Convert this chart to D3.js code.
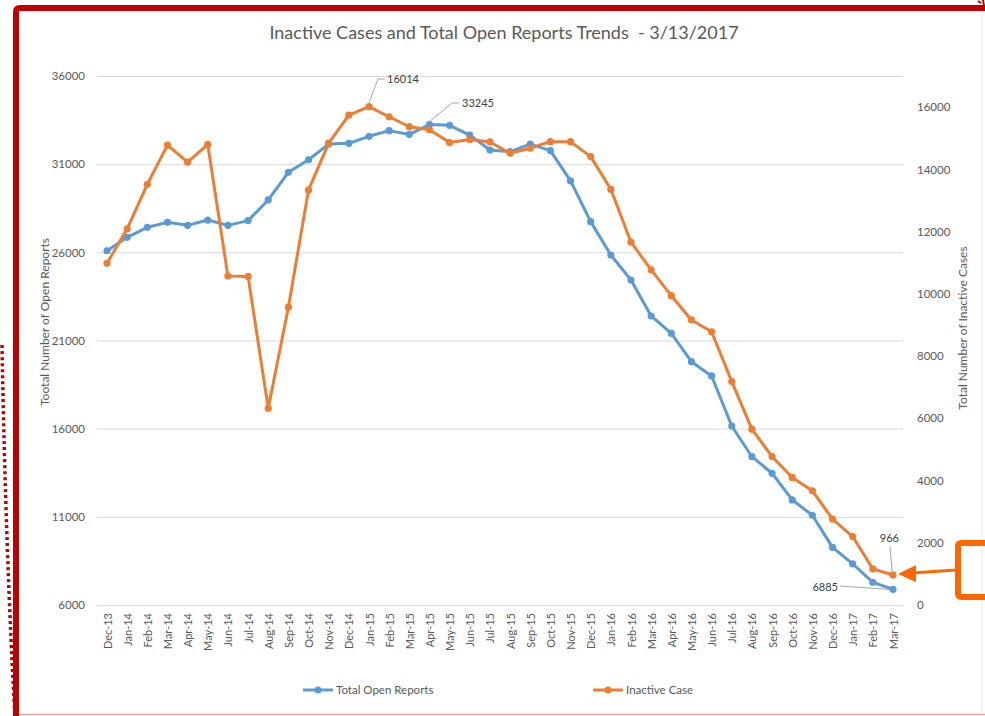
<!DOCTYPE html>
<html><head><meta charset="utf-8">
<script src="https://cdn.jsdelivr.net/npm/d3@7"></script>
<style>
html,body{margin:0;padding:0;background:#fff;}
svg{display:block;font-family:Lato,"Open Sans",sans-serif;}
</style></head>
<body>
<svg id="c" width="985" height="716"></svg>
<script>
const months = ["Dec-13","Jan-14","Feb-14","Mar-14","Apr-14","May-14","Jun-14","Jul-14","Aug-14","Sep-14","Oct-14","Nov-14",
"Dec-14","Jan-15","Feb-15","Mar-15","Apr-15","May-15","Jun-15","Jul-15","Aug-15","Sep-15","Oct-15","Nov-15",
"Dec-15","Jan-16","Feb-16","Mar-16","Apr-16","May-16","Jun-16","Jul-16","Aug-16","Sep-16","Oct-16","Nov-16",
"Dec-16","Jan-17","Feb-17","Mar-17"];
const openReports = [26090,26850,27420,27700,27530,27830,27530,27800,28970,30540,31250,32140,
32180,32580,32900,32690,33245,33200,32650,31800,31710,32140,31770,30050,
27740,25850,24430,22390,21400,19800,18990,16150,14410,13470,11960,11090,
9270,8330,7290,6885];
const inactiveCases = [10980,12090,13520,14780,14230,14800,10570,10560,6320,9570,13340,14840,
15740,16014,15690,15370,15270,14860,14960,14880,14520,14680,14890,14890,
14410,13360,11660,10770,9940,9160,8780,7180,5650,4770,4100,3670,
2760,2200,1160,966];
const leftTicks = [6000,11000,16000,21000,26000,31000,36000];
const rightTicks = [0,2000,4000,6000,8000,10000,12000,14000,16000];
const seriesNames = ["Total Open Reports","Inactive Case"];
const titleText = "Inactive Cases and Total Open Reports Trends  - 3/13/2017";
const leftTitle = "Tootal Number of Open Reports";
const rightTitle = "Total Number of Inactive Cases";

const svg = d3.select("#c");
const blue = "#5B9BD5", orange = "#ED7D31", txt = "#595959", grid = "#D9D9D9";

const x = d3.scalePoint().domain(months).range([107, 893]);
const yL = d3.scaleLinear().domain([6000, 36000]).range([605, 76]);
const yR = d3.scaleLinear().domain([0, 17000]).range([605, 76]);

// decorations: frame
svg.append("line").attr("x1",982).attr("x2",982).attr("y1",11).attr("y2",713).attr("stroke","#E6E6E6").attr("stroke-width",1);
svg.append("line").attr("x1",19).attr("x2",985).attr("y1",714.5).attr("y2",714.5).attr("stroke","#E9A3A3").attr("stroke-width",1.5);
svg.append("path").attr("d","M16,716 L16,12 Q16,8 20,8 L985,8").attr("fill","none").attr("stroke","#C00000").attr("stroke-width",6);
svg.append("path").attr("d","M2,345 Q6,560 15,716").attr("fill","none").attr("stroke","#C00000").attr("stroke-width",3.5).attr("stroke-dasharray","3,3");
svg.append("path").attr("d","M978,1 L981,3 M983,0 L984,6").attr("fill","none").attr("stroke","#C00000").attr("stroke-width",2);

// title
svg.append("text").attr("x",504).attr("y",39).attr("text-anchor","middle").attr("fill",txt)
  .attr("font-size",18).style("white-space","pre").attr("xml:space","preserve").text(titleText);

// gridlines
svg.append("g").selectAll("line").data(leftTicks).join("line")
  .attr("x1",97).attr("x2",903).attr("y1",d=>yL(d)+0.5).attr("y2",d=>yL(d)+0.5)
  .attr("stroke",grid).attr("stroke-width",1);

// left axis
const gL = svg.append("g").attr("transform","translate(97,0)")
  .call(d3.axisLeft(yL).tickValues(leftTicks).tickSize(0).tickPadding(12).tickFormat(d3.format("d")));
gL.select(".domain").remove();
gL.selectAll("text").attr("fill",txt).attr("font-size",11.5).attr("font-family","Lato,'Open Sans',sans-serif");

// right axis
const gR = svg.append("g").attr("transform","translate(917,0)")
  .call(d3.axisRight(yR).tickValues(rightTicks).tickSize(0).tickPadding(0).tickFormat(d3.format("d")));
gR.select(".domain").remove();
gR.selectAll("text").attr("fill",txt).attr("font-size",11.5).attr("font-family","Lato,'Open Sans',sans-serif");

// x axis
const gX = svg.append("g").attr("transform","translate(0,605)")
  .call(d3.axisBottom(x).tickSize(0).tickPadding(0));
gX.select(".domain").remove();
gX.selectAll("text").attr("fill",txt).attr("font-size",11).attr("font-family","Lato,'Open Sans',sans-serif")
  .attr("text-anchor","end").attr("dy",null).attr("y",0)
  .attr("transform","translate(4,8) rotate(-90)");

// axis titles
svg.append("text").attr("transform","translate(49,322) rotate(-90)").attr("text-anchor","middle")
  .attr("fill",txt).attr("font-size",12).text(leftTitle);
svg.append("text").attr("transform","translate(967,328) rotate(-90)").attr("text-anchor","middle")
  .attr("fill",txt).attr("font-size",12).text(rightTitle);

// lines
const lineL = d3.line().x((d,i)=>x(months[i])).y(d=>yL(d));
const lineR = d3.line().x((d,i)=>x(months[i])).y(d=>yR(d));
svg.append("path").datum(openReports).attr("d",lineL).attr("fill","none").attr("stroke",blue).attr("stroke-width",3).attr("stroke-linejoin","round");
svg.append("g").selectAll("circle").data(openReports).join("circle")
  .attr("cx",(d,i)=>x(months[i])).attr("cy",d=>yL(d)).attr("r",3.6).attr("fill",blue);
svg.append("path").datum(inactiveCases).attr("d",lineR).attr("fill","none").attr("stroke",orange).attr("stroke-width",3).attr("stroke-linejoin","round");
svg.append("g").selectAll("circle").data(inactiveCases).join("circle")
  .attr("cx",(d,i)=>x(months[i])).attr("cy",d=>yR(d)).attr("r",3.6).attr("fill",orange);

// data labels with leader lines
const lead = "#A6A6A6";
function label(px, py, pts, tx, ty, str, anchor){
  svg.append("polyline").attr("points",[[px,py],...pts].map(p=>p.join(",")).join(" "))
    .attr("fill","none").attr("stroke",lead).attr("stroke-width",1);
  svg.append("text").attr("x",tx).attr("y",ty).attr("text-anchor",anchor||"start").attr("fill","#404040")
    .attr("font-size",11).text(str);
}
const iJ = months.indexOf("Jan-15"), iA = months.indexOf("Apr-15"), iM = months.length-1;
label(x(months[iJ]), yR(inactiveCases[iJ])-4, [[378,79],[385,79]], 387, 83, String(inactiveCases[iJ]));
label(x(months[iA]), yL(openReports[iA])-3, [[452,103],[459,103]], 462, 107, String(openReports[iA]));
label(x(months[iM])-1, yR(inactiveCases[iM])-4, [[890,546]], 899, 542, String(inactiveCases[iM]), "end");
label(x(months[iM])-4, yL(openReports[iM]), [[840,586]], 838, 591, String(openReports[iM]), "end");

// legend
const leg = svg.append("g");
[[blue,303,seriesNames[0]],[orange,593,seriesNames[1]]].forEach(([c,lx,t])=>{
  leg.append("line").attr("x1",lx).attr("x2",lx+30).attr("y1",690).attr("y2",690).attr("stroke",c).attr("stroke-width",3);
  leg.append("circle").attr("cx",lx+15).attr("cy",690).attr("r",3.6).attr("fill",c);
  leg.append("text").attr("x",lx+33).attr("y",694).attr("fill",txt).attr("font-size",11.5).text(t);
});

// orange callout box + arrow
const oc = "#FF6600";
svg.append("rect").attr("x",958).attr("y",543).attr("width",40).attr("height",54).attr("rx",3)
  .attr("fill","none").attr("stroke",oc).attr("stroke-width",6);
svg.append("line").attr("x1",956).attr("y1",570).attr("x2",912).attr("y2",573).attr("stroke",oc).attr("stroke-width",3);
svg.append("polygon").attr("points","898,574 916,565 916,582").attr("fill",oc);
</script>
</body></html>
